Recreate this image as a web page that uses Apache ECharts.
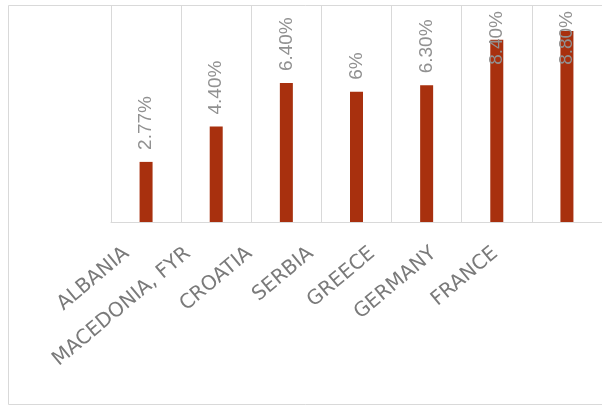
<!DOCTYPE html>
<html>
<head>
<meta charset="utf-8">
<script src="https://cdn.jsdelivr.net/npm/echarts@6/dist/echarts.min.js"></script>
<style>
  html, body { margin: 0; padding: 0; background: #ffffff; }
  #chart { width: 602px; height: 407px; }
</style>
</head>
<body>
<div id="chart"></div>
<script>
// Country names and their rates (percent)
const categories = ['ALBANIA', 'MACEDONIA, FYR', 'CROATIA', 'SERBIA', 'GREECE', 'GERMANY', 'FRANCE'];
const rates = [2.77, 4.40, 6.40, 6.00, 6.30, 8.40, 8.80];

function formatRate(v) {
  return Number.isInteger(v) ? v + '%' : v.toFixed(2) + '%';
}

const chart = echarts.init(document.getElementById('chart'), null, { renderer: 'canvas' });

const borderColor = '#d9d9d9';
const plotTop = 5;

chart.setOption({
  animation: false,
  backgroundColor: '#ffffff',
  graphic: [{
    type: 'rect',
    silent: true,
    shape: { x: 8.5, y: 5.5, width: 620, height: 399 },
    style: { fill: 'none', stroke: borderColor, lineWidth: 1 },
    z: -10
  }],
  grid: [
    { left: 111, top: plotTop, width: 497, height: 217, containLabel: false },
    // grid that only carries the category names below the plot
    { left: 96, top: plotTop, width: 430, height: 217, containLabel: false }
  ],
  xAxis: [{
    type: 'category',
    gridIndex: 0,
    data: categories,
    axisLine: { show: true, lineStyle: { color: borderColor, width: 1 } },
    axisTick: { show: false, interval: 0 },
    axisLabel: { show: false, interval: 0 },
    splitLine: { show: true, interval: 0, lineStyle: { color: borderColor, width: 1 } }
  }, {
    type: 'category',
    gridIndex: 1,
    data: categories,
    axisLine: { show: false },
    axisTick: { show: false },
    splitLine: { show: false },
    axisLabel: {
      show: true,
      interval: 0,
      rotate: 40,
      margin: 29,
      color: '#7a7a7a',
      fontFamily: 'DejaVu Sans',
      fontSize: 20
    }
  }],
  yAxis: [{
    type: 'value',
    gridIndex: 0,
    min: 0,
    max: 10,
    show: false,
    splitLine: { show: false }
  }, {
    type: 'value',
    gridIndex: 1,
    min: 0,
    max: 10,
    show: false
  }],
  series: [{
    type: 'bar',
    xAxisIndex: 0,
    yAxisIndex: 0,
    data: rates,
    barWidth: 13,
    itemStyle: { color: '#a8300e' },
    label: {
      show: true,
      position: 'top',
      distance: 12,
      rotate: 90,
      align: 'left',
      verticalAlign: 'middle',
      color: '#919191',
      fontFamily: '"Liberation Sans Narrow", "Liberation Sans", sans-serif',
      fontSize: 19,
      formatter: p => formatRate(p.value)
    },
    // keep labels of the tallest bars inside the plot
    // (the offset is applied in the label's rotated frame: -dx moves it down)
    labelLayout: function (params) {
      const r = params.labelRect;
      const minTop = plotTop + 6;
      return r.y < minTop ? { dx: -(minTop - r.y) } : {};
    }
  }]
});
</script>
</body>
</html>
